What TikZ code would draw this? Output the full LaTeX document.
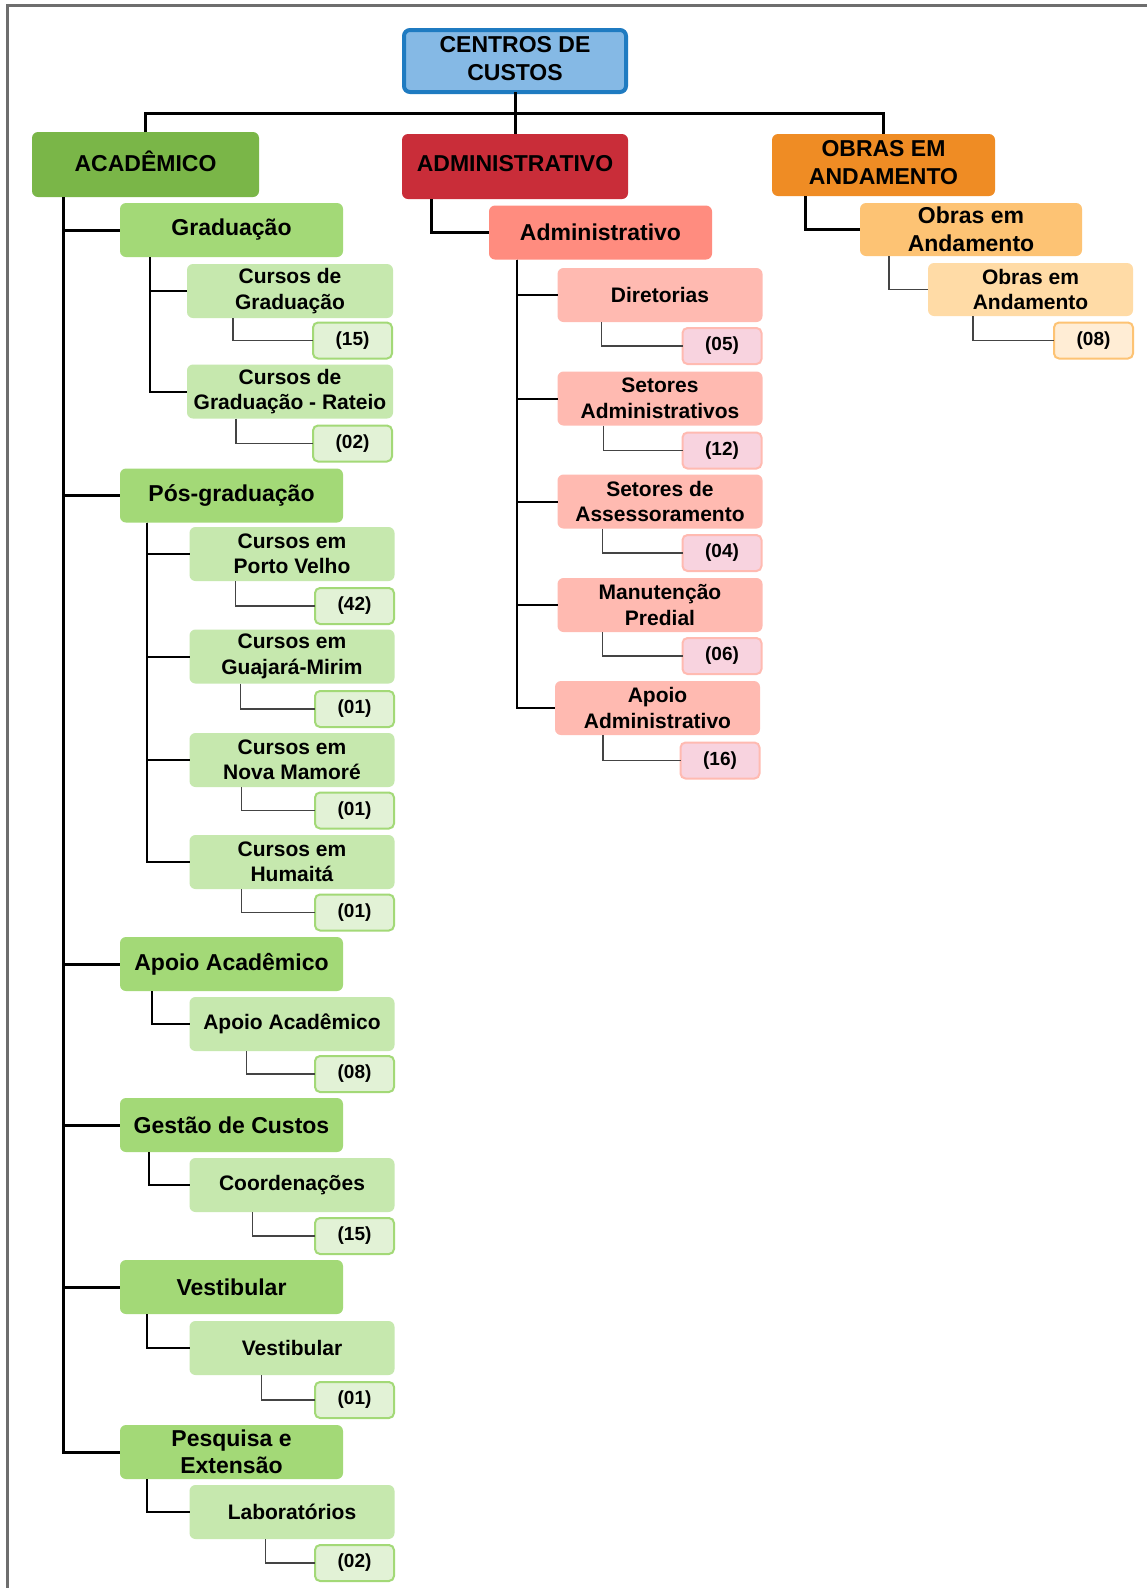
\documentclass[tikz,border=0pt]{standalone}
\usepackage{fontspec}
\setmainfont{Liberation Sans}
\begin{document}
\definecolor{rootfill}{HTML}{85B9E5}
\definecolor{rootline}{HTML}{1F7BC1}
\definecolor{acadfill}{HTML}{7AB648}
\definecolor{gtwo}{HTML}{A3D977}
\definecolor{gthree}{HTML}{C6E8AE}
\definecolor{gcount}{HTML}{E2F2D6}
\definecolor{admfill}{HTML}{C92D39}
\definecolor{rtwo}{HTML}{FF8C7F}
\definecolor{rthree}{HTML}{FFBAB1}
\definecolor{rcount}{HTML}{F8D3DF}
\definecolor{obfill}{HTML}{EF8C24}
\definecolor{otwo}{HTML}{FDC374}
\definecolor{othree}{HTML}{FFDBA6}
\definecolor{ocount}{HTML}{FFEDD5}
\definecolor{framegray}{HTML}{6E6E6E}
\definecolor{thinline}{HTML}{444444}
\begin{tikzpicture}[x=1pt,y=-1pt,
  box/.style={rounded corners=6pt, align=center, inner sep=0pt, outer sep=0pt, text=black},
  topbox/.style={box, text depth=6pt, minimum width=226pt, minimum height=65pt, font=\fontsize{23}{28}\selectfont\bfseries},
  lvtwo/.style={box, minimum width=223pt, minimum height=54pt, font=\fontsize{23}{27.5}\selectfont\bfseries},
  lvthree/.style={box, minimum width=205pt, minimum height=54pt, font=\fontsize{21}{25.5}\selectfont\bfseries},
  cnt/.style={box, rounded corners=5pt, line width=2pt, minimum width=79pt, minimum height=36pt, font=\fontsize{19}{22}\selectfont\bfseries},
  gcnt/.style={cnt, fill=gcount, draw=gtwo},
  rcnt/.style={cnt, fill=rcount, draw=rthree},
  ocnt/.style={cnt, fill=ocount, draw=otwo},
  mainline/.style={line width=3pt, black},
  subline/.style={line width=2pt, black},
  cntline/.style={line width=1.2pt, thinline},
]
\useasboundingbox (0,0) rectangle (1147,1588);
\fill[white] (0,0) rectangle (1147,1588);
% page frame (top and left edges)
\draw[framegray, line width=3pt] (7,1588) -- (7,5) -- (1147,5);

% top level
\node[box, fill=rootfill, draw=rootline, line width=4pt, minimum width=222pt, minimum height=62pt,
      text depth=6pt, font=\fontsize{23}{28}\selectfont\bfseries] (root) at (515,61) {CENTROS DE\\CUSTOS};
\node[topbox, fill=acadfill, minimum width=227pt] (acad) at (145.5,164.5) {ACADÊMICO};
\node[topbox, fill=admfill] (admin) at (515,166.5) {ADMINISTRATIVO};
\node[topbox, fill=obfill, minimum width=223pt, minimum height=62pt] (obras) at (883.5,165) {OBRAS EM\\ANDAMENTO};

\coordinate (bus) at (515,113);
\draw[mainline] (root.south) -- (admin.north);
\draw[mainline] (acad.north) |- (bus) -| (obras.north);

% ---------- ACADÊMICO ----------
\node[lvtwo, fill=gtwo] (grad) at (231.5,230) {Graduação};
\node[lvtwo, fill=gtwo] (pos) at (231.5,495.5) {Pós-graduação};
\node[lvtwo, fill=gtwo] (apa) at (231.5,964) {Apoio Acadêmico};
\node[lvtwo, fill=gtwo] (ges) at (231.5,1125) {Gestão de Custos};
\node[lvtwo, fill=gtwo] (ves) at (231.5,1287) {Vestibular};
\node[lvtwo, fill=gtwo] (pes) at (231.5,1452) {Pesquisa e\\Extensão};

\foreach \n in {grad,pos,apa,ges,ves,pes}
  \draw[mainline] ([xshift=31pt]acad.south west) |- (\n.west);

\node[lvthree, fill=gthree, minimum width=206pt] (cg) at (290,291) {Cursos de\\Graduação};
\node[lvthree, fill=gthree, minimum width=206pt] (cgr) at (290,391.5) {Cursos de\\Graduação - Rateio};
\node[gcnt] (ncg) at (352.5,340.5) {(15)};
\node[gcnt] (ncgr) at (352.5,443.5) {(02)};
\draw[subline] ([xshift=30pt]grad.south west) |- (cg.west);
\draw[subline] ([xshift=30pt]grad.south west) |- (cgr.west);
\draw[cntline] ([xshift=46pt]cg.south west) |- (ncg.west);
\draw[cntline] ([xshift=49pt]cgr.south west) |- (ncgr.west);

\node[lvthree, fill=gthree] (pv) at (292,554) {Cursos em\\Porto Velho};
\node[lvthree, fill=gthree] (gm) at (292,656.5) {Cursos em\\Guajará-Mirim};
\node[lvthree, fill=gthree] (nm) at (292,760) {Cursos em\\Nova Mamoré};
\node[lvthree, fill=gthree] (hu) at (292,862) {Cursos em\\Humaitá};
\node[gcnt] (npv) at (354.5,606) {(42)};
\node[gcnt] (ngm) at (354.5,709) {(01)};
\node[gcnt] (nnm) at (354.5,810.5) {(01)};
\node[gcnt] (nhu) at (354.5,912.5) {(01)};
\foreach \n in {pv,gm,nm,hu}
  \draw[subline] ([xshift=27pt]pos.south west) |- (\n.west);
\draw[cntline] ([xshift=46pt]pv.south west) |- (npv.west);
\draw[cntline] ([xshift=51pt]gm.south west) |- (ngm.west);
\draw[cntline] ([xshift=52pt]nm.south west) |- (nnm.west);
\draw[cntline] ([xshift=52pt]hu.south west) |- (nhu.west);

\node[lvthree, fill=gthree] (aa) at (292,1024) {Apoio Acadêmico};
\node[gcnt] (naa) at (354.5,1074) {(08)};
\draw[subline] ([xshift=32pt]apa.south west) |- (aa.west);
\draw[cntline] ([xshift=57pt]aa.south west) |- (naa.west);

\node[lvthree, fill=gthree] (co) at (292,1185) {Coordenações};
\node[gcnt] (nco) at (354.5,1236) {(15)};
\draw[subline] ([xshift=29pt]ges.south west) |- (co.west);
\draw[cntline] ([xshift=63pt]co.south west) |- (nco.west);

\node[lvthree, fill=gthree] (ve) at (292,1348) {Vestibular};
\node[gcnt] (nve) at (354.5,1400) {(01)};
\draw[subline] ([xshift=27pt]ves.south west) |- (ve.west);
\draw[cntline] ([xshift=72pt]ve.south west) |- (nve.west);

\node[lvthree, fill=gthree] (la) at (292,1512) {Laboratórios};
\node[gcnt] (nla) at (354.5,1563) {(02)};
\draw[subline] ([xshift=27pt]pes.south west) |- (la.west);
\draw[cntline] ([xshift=76pt]la.south west) |- (nla.west);

% ---------- ADMINISTRATIVO ----------
\node[lvtwo, fill=rtwo] (adm) at (600.5,232.5) {Administrativo};
\draw[mainline] ([xshift=29pt]admin.south west) |- (adm.west);

\node[lvthree, fill=rthree] (dir) at (660,295) {Diretorias};
\node[lvthree, fill=rthree] (sa) at (660,398.5) {Setores\\Administrativos};
\node[lvthree, fill=rthree] (sas) at (660,501.5) {Setores de\\Assessoramento};
\node[lvthree, fill=rthree] (mp) at (660,605) {Manutenção\\Predial};
\node[lvthree, fill=rthree] (apd) at (657.5,708) {Apoio\\Administrativo};
\foreach \n in {dir,sa,sas,mp,apd}
  \draw[subline] ([xshift=28pt]adm.south west) |- (\n.west);

\node[rcnt] (ndir) at (722,346) {(05)};
\node[rcnt] (nsa) at (722,450.5) {(12)};
\node[rcnt] (nsas) at (722,553) {(04)};
\node[rcnt] (nmp) at (722,656) {(06)};
\node[rcnt] (napd) at (720,760.5) {(16)};
\draw[cntline] ([xshift=44pt]dir.south west) |- (ndir.west);
\draw[cntline] ([xshift=46pt]sa.south west) |- (nsa.west);
\draw[cntline] ([xshift=45pt]sas.south west) |- (nsas.west);
\draw[cntline] ([xshift=45pt]mp.south west) |- (nmp.west);
\draw[cntline] ([xshift=48pt]apd.south west) |- (napd.west);

% ---------- OBRAS EM ANDAMENTO ----------
\node[lvtwo, fill=otwo, minimum width=222pt, minimum height=53pt] (ob) at (971,229.5) {Obras em\\Andamento};
\draw[mainline] ([xshift=33pt]obras.south west) |- (ob.west);

\node[lvthree, fill=othree, minimum height=53pt] (obt) at (1030.5,289.5) {Obras em\\Andamento};
\draw[line width=1.6pt, thinline] ([xshift=29pt]ob.south west) |- (obt.west);

\node[ocnt] (nob) at (1093.5,340.5) {(08)};
\draw[cntline] ([xshift=45pt]obt.south west) |- (nob.west);
\end{tikzpicture}
\end{document}
